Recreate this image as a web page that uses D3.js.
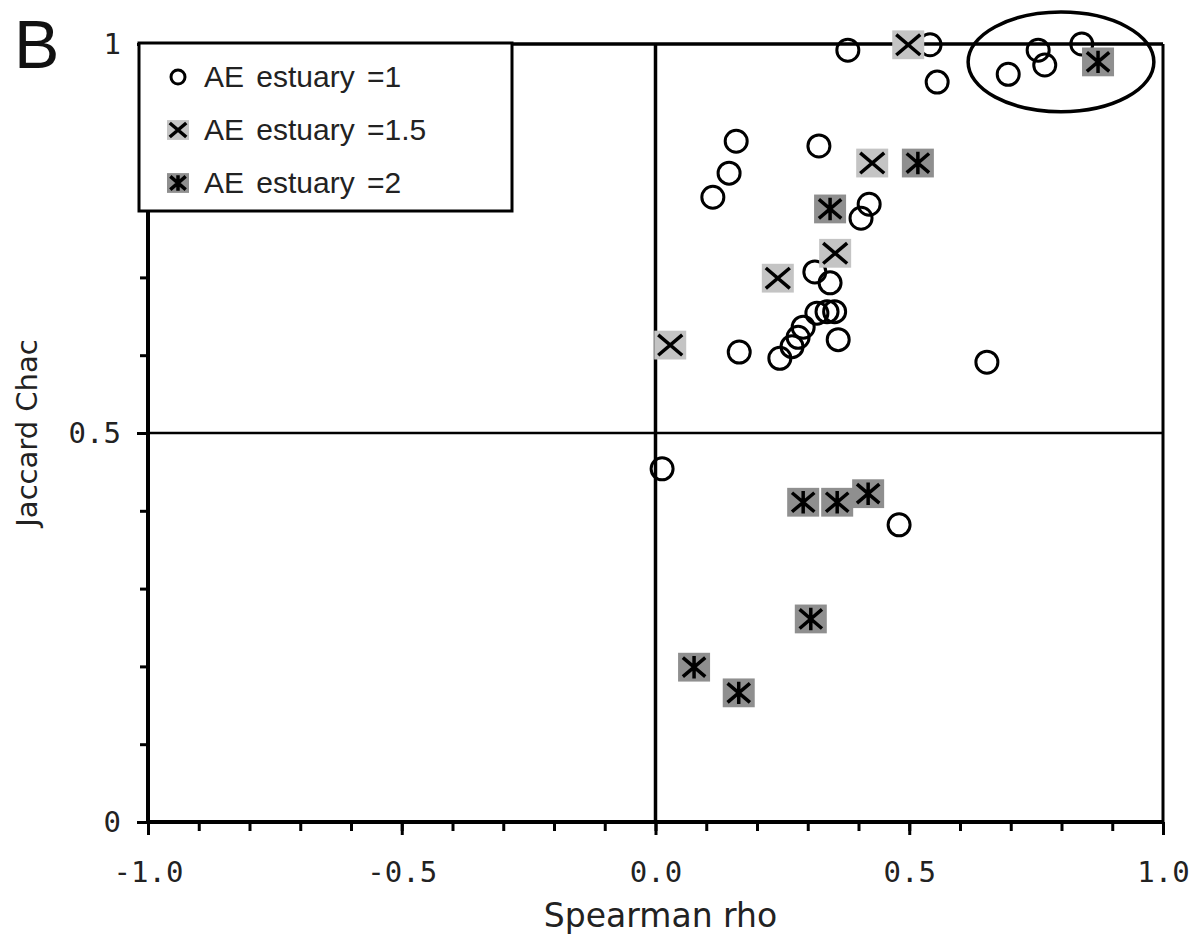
<!DOCTYPE html>
<html>
<head>
<meta charset="utf-8">
<script src="https://cdn.jsdelivr.net/npm/d3@7"></script>
<style>
  html, body { margin: 0; padding: 0; background: #fff; }
  svg { display: block; }
</style>
</head>
<body>
<svg id="chart" width="1200" height="935"></svg>
<script>
// ---------- data ----------
const seriesNames = ["AE estuary =1", "AE estuary =1.5", "AE estuary =2"];

const ae1Rho = [0.379, 0.541, 0.555, 0.695, 0.754, 0.767, 0.840, 0.159, 0.322, 0.145, 0.113, 0.421, 0.405,
                0.314, 0.344, 0.245, 0.269, 0.281, 0.291, 0.318, 0.338, 0.353, 0.360, 0.165, 0.653, 0.013, 0.480];
const ae1Jac = [0.992, 0.999, 0.951, 0.961, 0.992, 0.973, 1.000, 0.875, 0.869, 0.834, 0.803, 0.794, 0.776,
                0.707, 0.693, 0.596, 0.611, 0.623, 0.636, 0.654, 0.656, 0.656, 0.620, 0.604, 0.591, 0.454, 0.382];

const ae15Rho = [0.498, 0.427, 0.354, 0.241, 0.029];
const ae15Jac = [0.999, 0.847, 0.731, 0.699, 0.613];

const ae2Rho = [0.872, 0.517, 0.344, 0.291, 0.358, 0.419, 0.306, 0.076, 0.164];
const ae2Jac = [0.977, 0.847, 0.788, 0.411, 0.411, 0.422, 0.261, 0.199, 0.166];

const xMajorTicks = [-1.0, -0.5, 0.0, 0.5, 1.0];
const xTickLabels = ["-1.0", "-0.5", "0.0", "0.5", "1.0"];
const yMajorTicks = [0, 0.5, 1];
const yTickLabels = ["0", "0.5", "1"];
const refLines = { rho: 0, jaccard: 0.5 };
// highlighted group (ellipse): centre rho, centre jaccard, half-width rho, half-height jaccard
const highlight = [0.799, 0.977, 0.183, 0.064];

const panelLabel = "B";
const xTitle = "Spearman rho";
const yTitle = "Jaccard Chac";

// ---------- chart ----------
const svg = d3.select("#chart");
const x = d3.scaleLinear().domain([-1, 1]).range([148, 1163]);
const y = d3.scaleLinear().domain([0, 1]).range([822, 44]);

const monoFont = "'DejaVu Sans Mono', monospace";

// minor ticks
const xMinor = d3.range(-10, 11).map(d => d / 10);
const yMinor = d3.range(0, 11).map(d => d / 10);

const gxMinor = svg.append("g").attr("transform", `translate(0,${y(0)})`)
  .call(d3.axisBottom(x).tickValues(xMinor).tickSize(9).tickFormat(""));
gxMinor.select(".domain").remove();
gxMinor.selectAll("line").attr("stroke", "#000").attr("stroke-width", 3);

const gx = svg.append("g").attr("transform", `translate(0,${y(0)})`)
  .call(d3.axisBottom(x).tickValues(xMajorTicks).tickSize(13).tickPadding(26)
    .tickFormat((d, i) => xTickLabels[i]));
gx.select(".domain").remove();
gx.selectAll("line").attr("stroke", "#000").attr("stroke-width", 3);
gx.selectAll("text").attr("font-family", monoFont).attr("font-size", 29).attr("fill", "#222");

const gyMinor = svg.append("g").attr("transform", `translate(${x(-1)},0)`)
  .call(d3.axisLeft(y).tickValues(yMinor).tickSize(8).tickFormat(""));
gyMinor.select(".domain").remove();
gyMinor.selectAll("line").attr("stroke", "#000").attr("stroke-width", 3);

const gy = svg.append("g").attr("transform", `translate(${x(-1)},0)`)
  .call(d3.axisLeft(y).tickValues(yMajorTicks).tickSize(11).tickPadding(16)
    .tickFormat((d, i) => yTickLabels[i]));
gy.select(".domain").remove();
gy.selectAll("line").attr("stroke", "#000").attr("stroke-width", 3);
gy.selectAll("text").attr("font-family", monoFont).attr("font-size", 29).attr("fill", "#222");

// frame
svg.append("line").attr("x1", x(-1)).attr("x2", x(1)).attr("y1", y(1)).attr("y2", y(1))
  .attr("stroke", "#000").attr("stroke-width", 3.5);
svg.append("line").attr("x1", x(1)).attr("x2", x(1)).attr("y1", y(1)).attr("y2", y(0))
  .attr("stroke", "#000").attr("stroke-width", 3);
svg.append("line").attr("x1", x(-1)).attr("x2", x(-1)).attr("y1", y(1)).attr("y2", y(0) + 2)
  .attr("stroke", "#000").attr("stroke-width", 4);
svg.append("line").attr("x1", x(-1) - 2).attr("x2", x(1) + 1).attr("y1", y(0)).attr("y2", y(0))
  .attr("stroke", "#000").attr("stroke-width", 4);

// reference lines
svg.append("line").attr("x1", x(refLines.rho)).attr("x2", x(refLines.rho))
  .attr("y1", y(1)).attr("y2", y(0))
  .attr("stroke", "#000").attr("stroke-width", 3.5);
svg.append("line").attr("x1", x(-1)).attr("x2", x(1))
  .attr("y1", y(refLines.jaccard)).attr("y2", y(refLines.jaccard))
  .attr("stroke", "#000").attr("stroke-width", 2.5);

// marker drawing helpers
function drawCircle(g, cx, cy, r) {
  g.append("circle").attr("cx", cx).attr("cy", cy).attr("r", r)
    .attr("fill", "none").attr("stroke", "#000").attr("stroke-width", 3);
}
function drawX(g, cx, cy, s) {
  g.append("rect").attr("x", cx - s).attr("y", cy - s * 0.9).attr("width", 2 * s).attr("height", 1.8 * s)
    .attr("fill", "#c4c4c4");
  const a = s * 0.75;
  g.append("path").attr("d", `M${cx - a},${cy - a * 0.85}L${cx + a},${cy + a * 0.85}M${cx - a},${cy + a * 0.85}L${cx + a},${cy - a * 0.85}`)
    .attr("stroke", "#000").attr("stroke-width", 3.5).attr("fill", "none");
}
function drawStar(g, cx, cy, s) {
  g.append("rect").attr("x", cx - s).attr("y", cy - s * 0.9).attr("width", 2 * s).attr("height", 1.8 * s)
    .attr("fill", "#8f8f8f");
  const a = s * 0.7;
  g.append("path").attr("d", `M${cx - a},${cy - a * 0.85}L${cx + a},${cy + a * 0.85}M${cx - a},${cy + a * 0.85}L${cx + a},${cy - a * 0.85}M${cx},${cy - a}L${cx},${cy + a}`)
    .attr("stroke", "#000").attr("stroke-width", 3.5).attr("fill", "none");
}

const gPts = svg.append("g");
ae1Rho.forEach((r, i) => drawCircle(gPts, x(r), y(ae1Jac[i]), 11));
ae15Rho.forEach((r, i) => drawX(gPts, x(r), y(ae15Jac[i]), 16));
ae2Rho.forEach((r, i) => drawStar(gPts, x(r), y(ae2Jac[i]), 16));

// highlight ellipse
svg.append("ellipse")
  .attr("cx", x(highlight[0])).attr("cy", y(highlight[1]))
  .attr("rx", x(highlight[2]) - x(0)).attr("ry", y(0) - y(highlight[3]))
  .attr("fill", "none").attr("stroke", "#000").attr("stroke-width", 3.5);

// legend
const lg = svg.append("g");
lg.append("rect").attr("x", 139).attr("y", 43).attr("width", 373).attr("height", 168)
  .attr("fill", "#fff").attr("stroke", "#000").attr("stroke-width", 3);
const legendRows = [77, 130, 183];
drawCircle(lg, 178, legendRows[0], 7);
drawX(lg, 178, legendRows[1], 11);
drawStar(lg, 178, legendRows[2], 11);
lg.selectAll("text.leg").data(seriesNames).enter().append("text")
  .attr("class", "leg")
  .attr("x", 204).attr("y", (d, i) => legendRows[i] + 10)
  .attr("font-family", "'Liberation Sans', Arial, sans-serif").attr("font-size", 30)
  .attr("word-spacing", 4)
  .attr("fill", "#222").text(d => d);

// titles
svg.append("text").attr("x", (x(-1) + x(1)) / 2 + 5).attr("y", 927)
  .attr("text-anchor", "middle").attr("font-family", "'DejaVu Sans', Verdana, sans-serif")
  .attr("font-size", 33).attr("fill", "#222").text(xTitle);

svg.append("text").attr("transform", `translate(37,${y(0.5)}) rotate(-90)`)
  .attr("text-anchor", "middle").attr("font-family", "'DejaVu Sans', Verdana, sans-serif")
  .attr("font-size", 29).attr("fill", "#222").text(yTitle);

svg.append("text").attr("x", 14).attr("y", 68)
  .attr("font-family", "'Liberation Sans', Arial, sans-serif").attr("font-size", 68)
  .attr("fill", "#111").text(panelLabel);
</script>
</body>
</html>
